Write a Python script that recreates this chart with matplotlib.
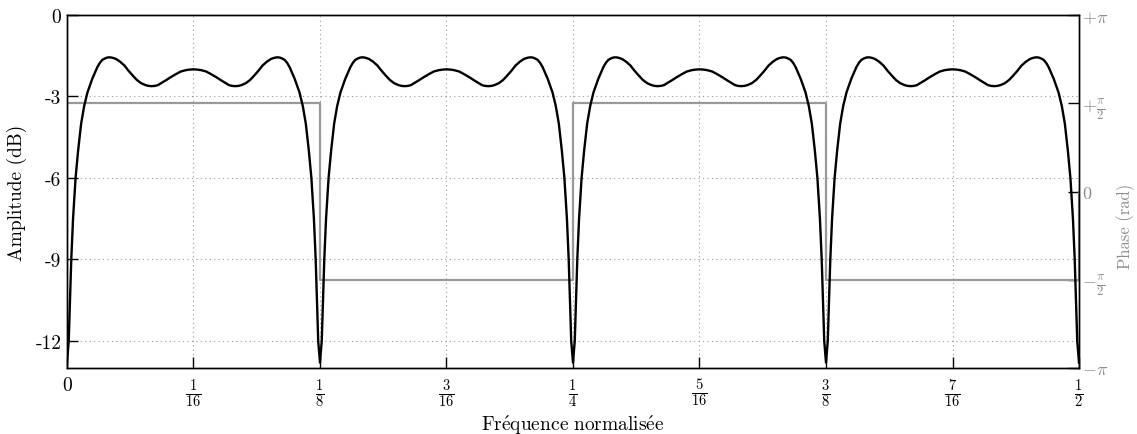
import numpy as np
import matplotlib
matplotlib.use('Agg')
import matplotlib.pyplot as plt

# Half of one lobe of the amplitude response (position inside the lobe, dB),
# read from the picture; every lobe is the same and symmetric.
lobe_frac = [0.000, 0.007, 0.012, 0.017, 0.024, 0.034, 0.044, 0.056, 0.068,
             0.081, 0.100, 0.120, 0.130, 0.140, 0.150, 0.158, 0.165, 0.172,
             0.182, 0.194, 0.210, 0.227, 0.243, 0.260, 0.276, 0.293, 0.310,
             0.322, 0.335, 0.348, 0.360, 0.372, 0.390, 0.410, 0.430, 0.450,
             0.470, 0.485, 0.500]
lobe_db = [-12.8, -12.0, -10.5, -9.0, -7.5, -6.0, -5.0, -4.0, -3.35,
           -2.85, -2.35, -1.92, -1.76, -1.65, -1.60, -1.57, -1.56, -1.56,
           -1.58, -1.62, -1.72, -1.86, -2.05, -2.23, -2.39, -2.51, -2.58,
           -2.61, -2.62, -2.61, -2.58, -2.51, -2.41, -2.29, -2.18, -2.08,
           -2.03, -2.01, -2.00]
lobe_starts = [0, 1 / 8, 1 / 4, 3 / 8]
lobe_width = 1 / 8

# Phase (rad), step function
phase_f = [0, 0, 1 / 8, 1 / 8, 1 / 4, 1 / 4, 3 / 8, 3 / 8, 1 / 2, 1 / 2]
phase_val = [0, np.pi / 2, np.pi / 2, -np.pi / 2, -np.pi / 2,
             np.pi / 2, np.pi / 2, -np.pi / 2, -np.pi / 2, 0]

x_ticks = [i / 16 for i in range(9)]
x_labels = ['0', r'$\frac{1}{16}$', r'$\frac{1}{8}$', r'$\frac{3}{16}$',
            r'$\frac{1}{4}$', r'$\frac{5}{16}$', r'$\frac{3}{8}$',
            r'$\frac{7}{16}$', r'$\frac{1}{2}$']
y_ticks = [0, -3, -6, -9, -12]
y_labels = ['0', '-3', '-6', '-9', '-12']
ph_ticks = [np.pi, np.pi / 2, 0, -np.pi / 2, -np.pi]
ph_labels = [r'$+\pi$', r'$+\frac{\pi}{2}$', '0', r'$-\frac{\pi}{2}$', r'$-\pi$']


def main():
    plt.rcParams['font.family'] = 'serif'
    plt.rcParams['font.serif'] = ['cmr10']
    plt.rcParams['mathtext.fontset'] = 'cm'
    plt.rcParams['axes.unicode_minus'] = False
    plt.rcParams['font.size'] = 14

    # build the full amplitude curve from the read half lobe
    half_f = np.array(lobe_frac)
    half_db = np.array(lobe_db)
    one_f = np.concatenate([half_f, 1 - half_f[::-1][1:]])
    one_db = np.concatenate([half_db, half_db[::-1][1:]])
    f = np.concatenate([s + one_f * lobe_width for s in lobe_starts])
    amp = np.concatenate([one_db for _ in lobe_starts])

    fig = plt.figure(figsize=(11.37, 4.35), dpi=100)
    ax = fig.add_axes([0.0589, 0.1517, 0.8901, 0.8115])
    ax2 = ax.twinx()
    ax.set_zorder(ax2.get_zorder() + 1)
    ax.patch.set_visible(False)

    ax2.plot(phase_f, phase_val, color='0.6', lw=1.6)
    ax.plot(f, amp, color='k', lw=1.7)

    ax.set_xlim(0, 0.5)
    ax.set_ylim(-13, 0)
    ax2.set_ylim(-np.pi, np.pi)

    ax.set_xticks(x_ticks)
    ax.set_xticklabels(x_labels, fontsize=15)
    ax.get_xticklabels()[0].set_fontsize(14)
    ax.set_yticks(y_ticks)
    ax.set_yticklabels(y_labels)
    ax2.set_yticks(ph_ticks)
    ax2.set_yticklabels(ph_labels, color='0.55', fontsize=13)

    ax.tick_params(direction='in', length=8, width=1, pad=4)
    ax.tick_params(axis='x', pad=6)
    ax2.tick_params(direction='in', length=8, width=1, pad=2)

    ax.grid(True, color='0.6', linestyle=(0, (1, 3)), lw=0.8)

    fig.text(0.504, 0.022, r'$\mathrm{Fr\acute{e}quence\ normalis\acute{e}e}$',
             ha='center', va='center', fontsize=14)
    ax.set_ylabel('Amplitude (dB)', labelpad=6)
    fig.text(0.990, 0.480, 'Phase (rad)', color='0.55', rotation=90,
             ha='center', va='center', fontsize=12)

    for a in (ax, ax2):
        for sp in a.spines.values():
            sp.set_linewidth(1.0)

    plt.savefig('out.png', dpi=100)


if __name__ == '__main__':
    main()
